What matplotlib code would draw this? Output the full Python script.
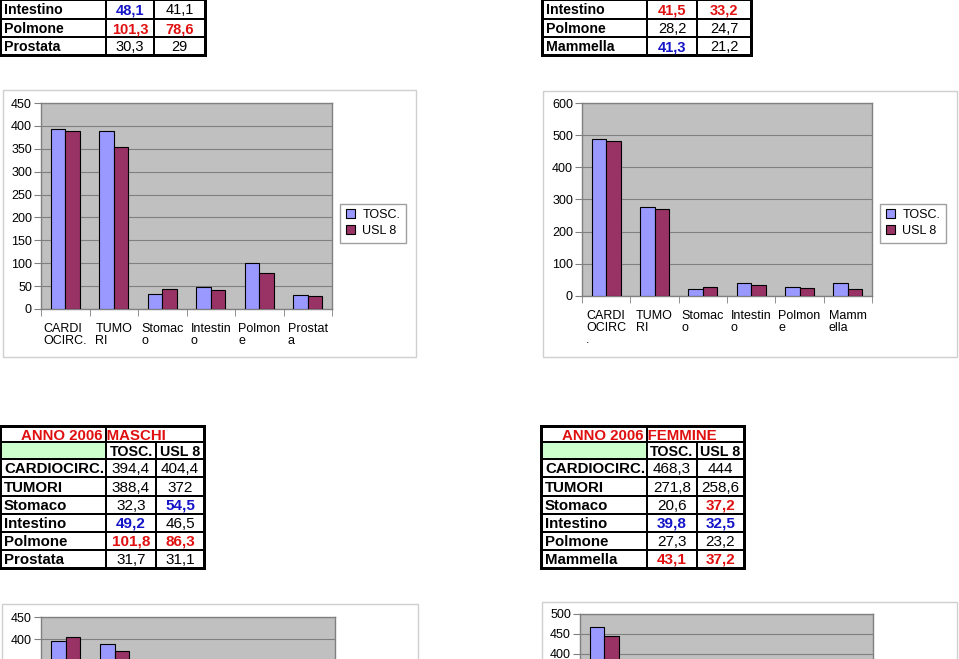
import numpy as np
import matplotlib
matplotlib.use("Agg")
import matplotlib.pyplot as plt
from matplotlib.patches import Rectangle
from matplotlib.ticker import FuncFormatter

plt.rcParams['font.family'] = ['Liberation Sans', 'DejaVu Sans']

W, H = 959, 659

# --- dati ---
cat_m = ["CARDI\nOCIRC.", "TUMO\nRI", "Stomac\no", "Intestin\no", "Polmon\ne", "Prostat\na"]
cat_f = ["CARDI\nOCIRC\n.", "TUMO\nRI", "Stomac\no", "Intestin\no", "Polmon\ne", "Mamm\nella"]

tosc_m_old = [394, 388, 32, 48.1, 101.3, 30.3]
usl_m_old = [388, 354, 43.7, 41.1, 78.6, 29]
tosc_f_old = [488, 277, 20.5, 41.5, 28.2, 41.3]
usl_f_old = [483, 272, 27.9, 33.2, 24.7, 21.2]

# colori celle tabelle in alto (ultime 3 righe visibili)
top_rows_m = ["Intestino", "Polmone", "Prostata"]
top_rows_f = ["Intestino", "Polmone", "Mammella"]
top_col_m_tosc = ['b', 'r', 'k']
top_col_m_usl = ['k', 'r', 'k']
top_col_f_tosc = ['r', 'k', 'b']
top_col_f_usl = ['r', 'k', 'k']

# ANNO 2006
rows_m = ["CARDIOCIRC.", "TUMORI", "Stomaco", "Intestino", "Polmone", "Prostata"]
rows_f = ["CARDIOCIRC.", "TUMORI", "Stomaco", "Intestino", "Polmone", "Mammella"]
tosc_m_06 = [394.4, 388.4, 32.3, 49.2, 101.8, 31.7]
usl_m_06 = [404.4, 372, 54.5, 46.5, 86.3, 31.1]
tosc_f_06 = [468.3, 271.8, 20.6, 39.8, 27.3, 43.1]
usl_f_06 = [444, 258.6, 37.2, 32.5, 23.2, 37.2]
col_m_tosc = ['k', 'k', 'k', 'b', 'r', 'k']
col_m_usl = ['k', 'k', 'b', 'k', 'r', 'k']
col_f_tosc = ['k', 'k', 'k', 'b', 'k', 'r']
col_f_usl = ['k', 'k', 'r', 'b', 'k', 'r']

C_TOSC = '#9999ff'
C_USL = '#993366'
RED = '#e01010'
BLUE = '#1414c8'
TXT = {'k': ('black', 'normal'), 'b': (BLUE, 'bold'), 'r': (RED, 'bold')}


def fmt(v):
    return f"{v:g}".replace('.', ',')


def frac(x0, y0, x1, y1):
    return [x0 / W, 1 - y1 / H, (x1 - x0) / W, (y1 - y0) / H]


def rect(ax, x0, y0, x1, y1, **kw):
    ax.add_patch(Rectangle((x0, y0), x1 - x0, y1 - y0, **kw))


def draw_table(bg, xs, ys, labels, v1, v2, c1, c2, fs_lab, fs_num, title=None):
    # ys: bordi delle righe; con title le prime due righe sono titolo e intestazione
    rect(bg, xs[0] - 2, ys[0] - 2, xs[-1] + 2, ys[-1] + 2, fc='black', ec='none')
    r0 = 0
    if title:
        rect(bg, xs[0] + 1, ys[0] + 1, xs[1] - 1, ys[1] - 1, fc='white', ec='none')
        rect(bg, xs[1] + 1, ys[0] + 1, xs[3] - 1, ys[1] - 1, fc='white', ec='none')
        bg.text(xs[0] + 20, (ys[0] + ys[1]) / 2 + 1, title, color=RED, fontweight='bold',
                fontsize=fs_lab, ha='left', va='center')
        rect(bg, xs[0] + 1, ys[1] + 1, xs[1] - 1, ys[2] - 1, fc='#ccffcc', ec='none')
        for j, h in enumerate(["TOSC.", "USL 8"]):
            rect(bg, xs[j + 1] + 1, ys[1] + 1, xs[j + 2] - 1, ys[2] - 1, fc='white', ec='none')
            bg.text((xs[j + 1] + xs[j + 2]) / 2, (ys[1] + ys[2]) / 2 + 1, h, fontweight='bold',
                    fontsize=fs_lab * 0.95, ha='center', va='center')
        r0 = 2
    for i, lab in enumerate(labels):
        ya, yb = ys[r0 + i], ys[r0 + i + 1]
        for j in range(3):
            rect(bg, xs[j] + 1, ya + 1, xs[j + 1] - 1, yb - 1, fc='white', ec='none')
        yc = (ya + yb) / 2 + 1
        bg.text(xs[0] + 3, yc, lab, fontweight='bold', fontsize=fs_lab, ha='left', va='center')
        for j, (vals, cols) in enumerate([(v1, c1), (v2, c2)]):
            color, weight = TXT[cols[i]]
            bg.text((xs[j + 1] + xs[j + 2]) / 2, yc, fmt(vals[i]), color=color,
                    fontweight=weight, fontsize=fs_num, ha='center', va='center')


def draw_chart(fig, bg, box, plot, ymax, ystep, cats, tosc, usl, legend_xy=None,
               xlabels=True, ylab_min=0):
    rect(bg, *box, fc='white', ec='#cfcfcf', lw=1)
    ax = fig.add_axes(frac(*plot))
    x = np.arange(len(cats))
    w = 0.3
    ax.bar(x - w / 2, tosc, w, color=C_TOSC, edgecolor='black', lw=0.8, label='TOSC.', zorder=3)
    ax.bar(x + w / 2, usl, w, color=C_USL, edgecolor='black', lw=0.8, label='USL 8', zorder=3)
    ax.set_xlim(-0.5, len(cats) - 0.5)
    ax.set_ylim(0, ymax)
    ax.set_yticks(np.arange(0, ymax + 1, ystep))
    # etichette solo dove visibili (i grafici in basso sono tagliati)
    ax.yaxis.set_major_formatter(FuncFormatter(lambda v, p: f"{v:g}" if v >= ylab_min else ""))
    ax.set_facecolor('#c0c0c0')
    ax.yaxis.grid(True, color='#808080', lw=0.8)
    ax.set_axisbelow(True)
    for s in ax.spines.values():
        s.set_color('#808080')
        s.set_linewidth(1)
    ax.set_xticks(x)
    ax.set_xticklabels(cats)
    for lbl in ax.get_xticklabels():
        lbl.set_multialignment('left')
        lbl.set_linespacing(1.0)
    ax.set_xticks(np.arange(-0.5, len(cats)), minor=True)
    ax.tick_params(axis='x', which='major', length=0, pad=10, labelsize=9,
                   labelbottom=xlabels)
    ax.tick_params(axis='x', which='minor', length=5, color='#808080')
    ax.tick_params(axis='y', length=5, color='#808080', labelsize=9, pad=1.5)
    if legend_xy:
        ax.legend(loc='center', bbox_to_anchor=(legend_xy[0] / W, 1 - legend_xy[1] / H),
                  bbox_transform=fig.transFigure, fancybox=False, edgecolor='#a0a0a0',
                  framealpha=1, fontsize=9, handlelength=0.75, handleheight=0.75,
                  handletextpad=0.6, labelspacing=0.3, borderpad=0.45, borderaxespad=0)
    return ax


fig = plt.figure(figsize=(W / 100, H / 100), dpi=100)
bg = fig.add_axes([0, 0, 1, 1])
bg.set_xlim(0, W)
bg.set_ylim(H, 0)
bg.axis('off')

# tabelle in alto (parzialmente visibili)
draw_table(bg, [1, 106, 154, 205], [0, 19, 37, 55], top_rows_m,
           tosc_m_old[3:], usl_m_old[3:], top_col_m_tosc, top_col_m_usl, 10.2, 10.5)
draw_table(bg, [543, 647, 697, 751], [0, 19, 37, 55], top_rows_f,
           tosc_f_old[3:], usl_f_old[3:], top_col_f_tosc, top_col_f_usl, 10.2, 10.5)

# grafici in alto
draw_chart(fig, bg, (3, 90, 416, 357), (41, 103, 332, 309), 450, 50,
           cat_m, tosc_m_old, usl_m_old, legend_xy=(373, 223))
draw_chart(fig, bg, (543, 91, 957, 357), (582, 103, 872, 296), 600, 100,
           cat_f, tosc_f_old, usl_f_old, legend_xy=(913, 223))

# tabelle ANNO 2006
ys06 = [427, 442, 459, 477, 496, 514, 532, 550, 568]
draw_table(bg, [1, 106, 156, 204], ys06, rows_m, tosc_m_06, usl_m_06,
           col_m_tosc, col_m_usl, 10.8, 11, title="ANNO 2006 MASCHI")
draw_table(bg, [542, 647, 697, 744], ys06, rows_f, tosc_f_06, usl_f_06,
           col_f_tosc, col_f_usl, 10.8, 11, title="ANNO 2006 FEMMINE")

# grafici 2006 (tagliati in basso)
draw_chart(fig, bg, (2, 604, 418, 880), (41, 617, 335, 815), 450, 50,
           cat_m, tosc_m_06, usl_m_06, xlabels=False, ylab_min=400)
draw_chart(fig, bg, (542, 602, 957, 880), (580, 614, 873, 814), 500, 50,
           cat_f, tosc_f_06, usl_f_06, xlabels=False, ylab_min=400)

fig.savefig("out.png", dpi=100)
